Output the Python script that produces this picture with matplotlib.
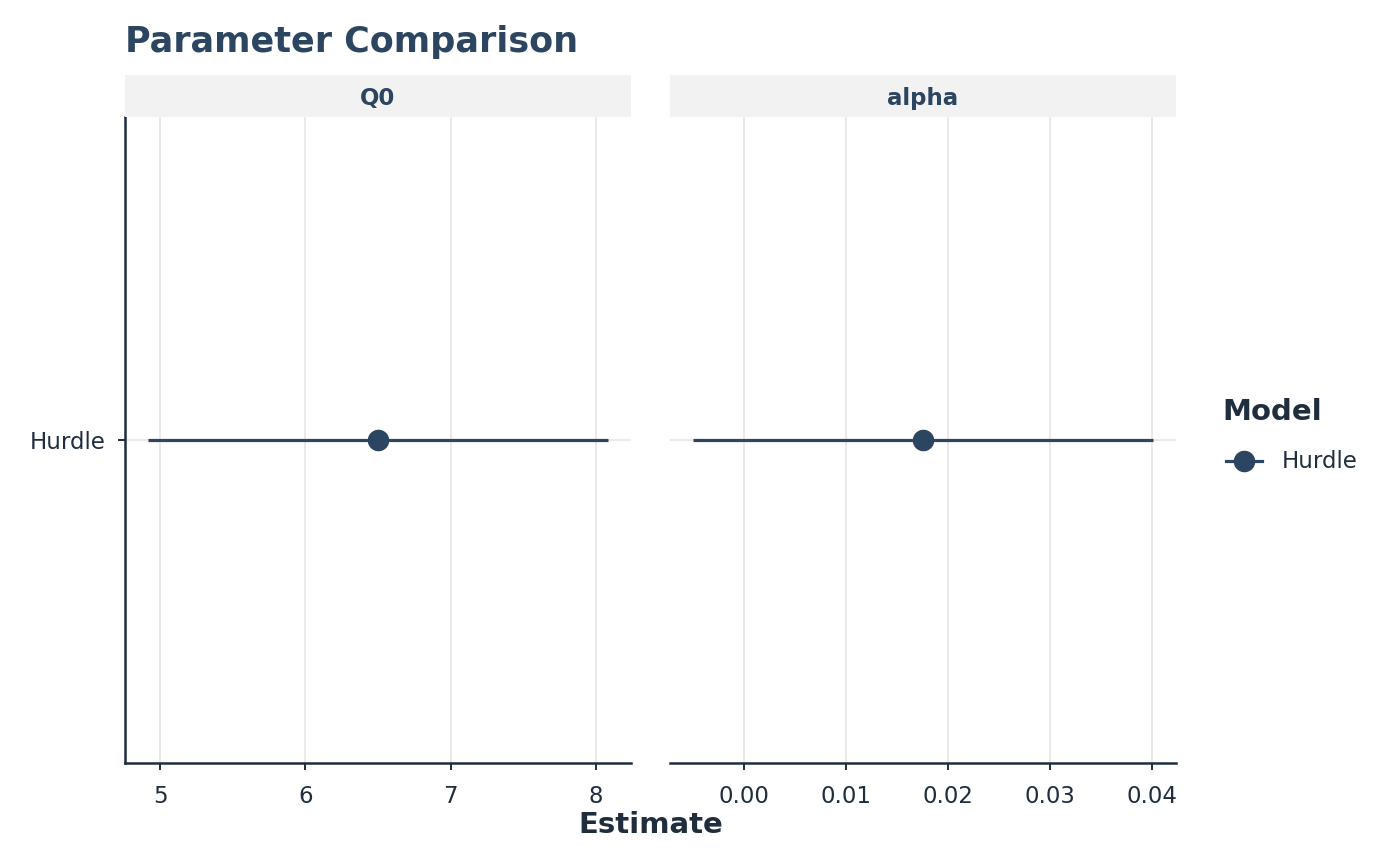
import numpy as np
import matplotlib.pyplot as plt
from matplotlib.lines import Line2D

# data
params = ['Q0', 'alpha']
models = ['Hurdle']
estimate = [6.497, 0.01755]
ci_low = [4.917, -0.0050]
ci_high = [8.083, 0.0401]
xlims = [(4.759, 8.241), (-0.00725, 0.04235)]
xticks = [[5, 6, 7, 8], [0.00, 0.01, 0.02, 0.03, 0.04]]
xticklabels = [['5', '6', '7', '8'], ['0.00', '0.01', '0.02', '0.03', '0.04']]

navy = '#2C4560'
dark = '#1F2D3D'
grid = '#E3E3E3'

fig = plt.figure(figsize=(14, 8.66), dpi=100)
W, H = 1400, 866

def fx(px):
    return px / W

def fy(py):
    return 1 - py / H

panels = [(125, 631), (670, 1176)]
top, bot = 117, 763

for i, (x0, x1) in enumerate(panels):
    ax = fig.add_axes([fx(x0), fy(bot), fx(x1) - fx(x0), fy(top) - fy(bot)])
    ax.set_xlim(*xlims[i])
    ax.set_ylim(0.4, 1.6)
    ax.set_xticks(xticks[i])
    ax.set_xticklabels(xticklabels[i])
    ax.set_yticks([1])
    for t in xticks[i]:
        ax.axvline(t, color=grid, lw=1.1, zorder=0)
    ax.axhline(1, color=grid, lw=1.1, zorder=0)
    ax.plot([ci_low[i], ci_high[i]], [1, 1], color=navy, lw=2.3, solid_capstyle='butt', zorder=2)
    ax.plot([estimate[i]], [1], 'o', color=navy, ms=14.5, zorder=3)
    for s in ['top', 'right']:
        ax.spines[s].set_visible(False)
    ax.spines['bottom'].set_color(dark)
    ax.spines['bottom'].set_linewidth(1.8)
    ax.tick_params(axis='x', colors=dark, labelsize=16.5, length=5, width=1.4, pad=11)
    if i == 0:
        ax.spines['left'].set_color(dark)
        ax.spines['left'].set_linewidth(1.8)
        ax.set_yticklabels(models)
        ax.tick_params(axis='y', colors=dark, labelsize=16.5, length=5, width=1.4, pad=9)
    else:
        ax.spines['left'].set_visible(False)
        ax.set_yticklabels([])
        ax.tick_params(axis='y', length=0)
    # strip
    sax = fig.add_axes([fx(x0), fy(top), fx(x1) - fx(x0), fy(75) - fy(top)])
    sax.set_facecolor('#F2F2F2')
    sax.set_xticks([])
    sax.set_yticks([])
    for s in sax.spines.values():
        s.set_visible(False)
    sax.text(0.5, 0.44, params[i], ha='center', va='center', fontsize=16.5,
             fontweight='bold', color=navy, transform=sax.transAxes)

fig.text(fx(125), fy(42), 'Parameter Comparison', ha='left', va='center',
         fontsize=25.2, fontweight='bold', color=navy)
fig.text(fx(651), fy(825), 'Estimate', ha='center', va='center',
         fontsize=21, fontweight='bold', color=dark)

# legend
fig.text(fx(1222), fy(412), 'Model', ha='left', va='center',
         fontsize=21, fontweight='bold', color=dark)
fig.add_artist(Line2D([fx(1226), fx(1262)], [fy(461), fy(461)], color=navy, lw=2.3,
                      transform=fig.transFigure))
fig.add_artist(Line2D([fx(1244)], [fy(461)], marker='o', color=navy, ms=14.5,
                      transform=fig.transFigure))
fig.text(fx(1282), fy(462), 'Hurdle', ha='left', va='center', fontsize=16.5, color=dark)

fig.savefig('out.png', dpi=100)
